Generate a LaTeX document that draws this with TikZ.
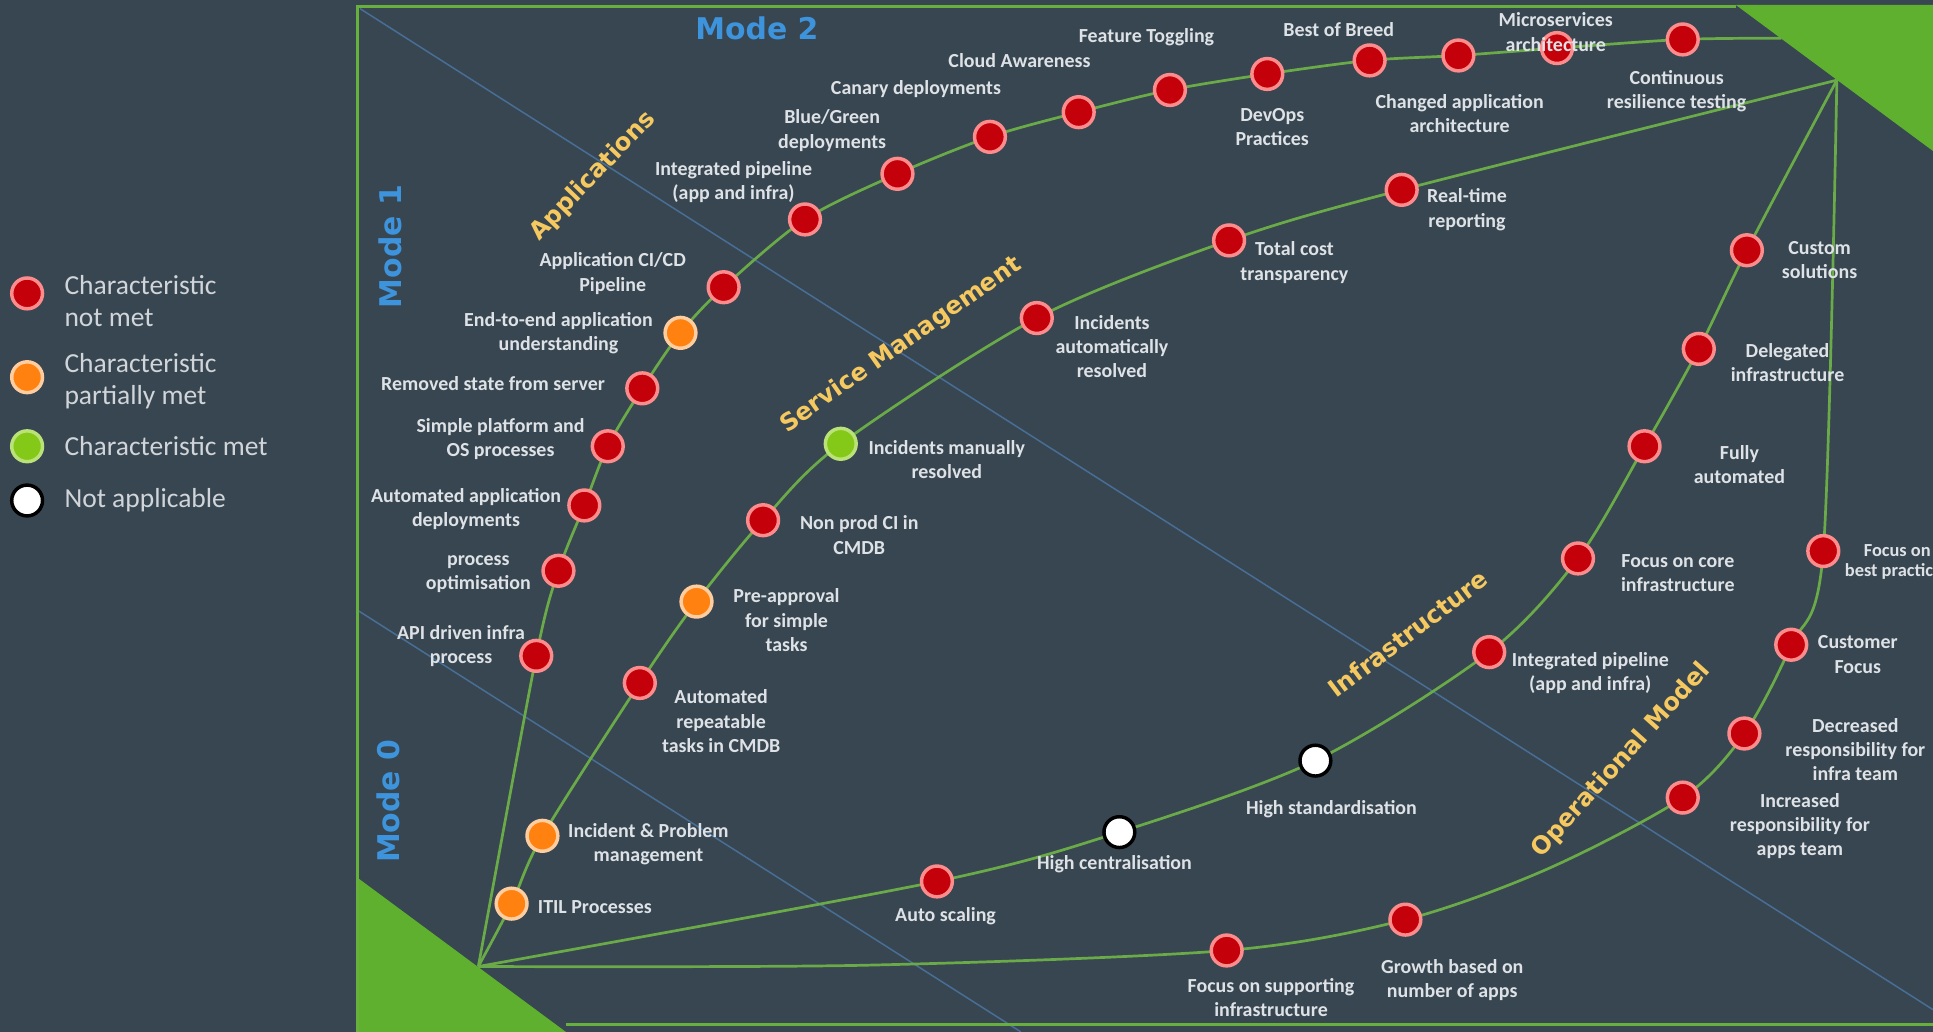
\documentclass[tikz,border=0pt]{standalone}
\usepackage{fontspec}
\setmainfont{Carlito}
\newfontfamily\headfont{DejaVu Sans}
\usepackage{tikz}
\definecolor{slate}{RGB}{55,70,80}
\definecolor{leaf}{RGB}{106,170,72}
\definecolor{framegreen}{RGB}{104,176,62}
\definecolor{lime}{RGB}{94,176,46}
\definecolor{skyblue}{RGB}{62,148,220}
\definecolor{lineblue}{RGB}{72,110,150}
\definecolor{gold}{RGB}{245,200,96}
\definecolor{txtgray}{RGB}{222,226,230}
\definecolor{redfill}{RGB}{196,0,10}
\definecolor{redring}{RGB}{255,140,140}
\definecolor{orangefill}{RGB}{255,130,16}
\definecolor{orangering}{RGB}{255,205,160}
\definecolor{greenfill}{RGB}{132,200,24}
\definecolor{greenring}{RGB}{186,226,120}
\pgfdeclarelayer{back}
\pgfdeclarelayer{wires}
\pgfsetlayers{back,wires,main}

\begin{document}
\begin{tikzpicture}[
x = 0.02cm, y = -0.02cm,
notmet/.style={circle, fill = redfill, draw = redring, line width = 1.6pt, minimum size = 0.5cm, inner sep = 0},
partmet/.style={notmet, fill = orangefill, draw = orangering},
met/.style={notmet, fill = greenfill, draw = greenring},
noapp/.style={notmet, fill = white, draw = black},
lbl/.style={align = center, text = txtgray, inner sep = 0, font = \bfseries\fontsize{9.2}{11.2}\selectfont},
leglbl/.style={align = left, anchor = west, text = txtgray!92!slate, inner sep = 0, font = \fontsize{12.7}{14.8}\selectfont},
catlbl/.style={text = gold, inner sep = 0, font = \headfont\bfseries\fontsize{11.2}{13}\selectfont},
modelbl/.style={text = skyblue, inner sep = 0, font = \headfont\bfseries\fontsize{13.8}{16}\selectfont},
track/.style={draw = leaf, line width = 1.25pt},
modeline/.style={draw = lineblue, line width = 0.7pt},
frame/.style={draw = framegreen, line width = 1.5pt}]

\useasboundingbox (0,0) rectangle (1568,837);
\clip (0,0) rectangle (1568,837);

\begin{pgfonlayer}{back}
\fill[slate] (0,0) rectangle (1568,837);
\draw[modeline] (292,7) -- (1568,819);
\draw[modeline] (290,495) -- (828,837);
\fill[lime] (290,712) -- (290,840) -- (463,840) -- cycle;
\fill[lime] (1408,4) -- (1570,4) -- (1570,124) -- cycle;
\draw[frame] (1408,5) -- (290,5) -- (290,840);
\draw[frame] (459,831) -- (1568,831);
\end{pgfonlayer}

\coordinate (O1) at (388,784);
\coordinate (O2) at (1490,65);
\coordinate (AE) at (1445,31);
\coordinate (OB) at (700,783);
\coordinate (OC) at (1255,705);

% legend
\node[notmet] (LNM) at (22,238) {};
\node[partmet] (LPM) at (22,306) {};
\node[met] (LM) at (22,362) {};
\node[noapp] (LNA) at (22,406) {};
\node[leglbl] (LNMt) at (52,244) {Characteristic\\not met};
\node[leglbl] (LPMt) at (52,309) {Characteristic\\partially met};
\node[leglbl] (LMt) at (52,362) {Characteristic met};
\node[leglbl] (LNAt) at (52,406) {Not applicable};

% modes
\node[modelbl] (M2) at (614,23) {Mode 2};
\node[modelbl, rotate = 90] (M1) at (317,200) {Mode 1};
\node[modelbl, rotate = 90] (M0) at (315,650) {Mode 0};

% applications
\node[notmet] (API) at (435,532) {};
\node[notmet] (PO) at (453,463) {};
\node[notmet] (AAD) at (474,410) {};
\node[notmet] (SPOS) at (493,362) {};
\node[notmet] (RSS) at (521,315) {};
\node[partmet] (EAU) at (552,270) {};
\node[notmet] (CICD) at (587,233) {};
\node[notmet] (IPA) at (653,178) {};
\node[notmet] (BG) at (728,141) {};
\node[notmet] (CAN) at (803,111) {};
\node[notmet] (CLA) at (875,91) {};
\node[notmet] (FT) at (949,73) {};
\node[notmet] (DEV) at (1028,60) {};
\node[notmet] (BOB) at (1111,49) {};
\node[notmet] (CAA) at (1183,45) {};
\node[notmet] (MSA) at (1263,39) {};
\node[notmet] (CRT) at (1365,32) {};

% service management
\node[partmet] (ITIL) at (415,733) {};
\node[partmet] (IPM) at (440,678) {};
\node[notmet] (ART) at (519,554) {};
\node[partmet] (PAS) at (565,488) {};
\node[notmet] (NPC) at (619,422) {};
\node[met] (IMR) at (682,360) {};
\node[notmet] (IAR) at (841,258) {};
\node[notmet] (TCT) at (997,195) {};
\node[notmet] (RTR) at (1137,154) {};

% infrastructure
\node[notmet] (AS) at (760,715) {};
\node[noapp] (HC) at (908,675) {};
\node[noapp] (HS) at (1067,617) {};
\node[notmet] (IPI) at (1208,529) {};
\node[notmet] (FCI) at (1280,453) {};
\node[notmet] (FA) at (1334,362) {};
\node[notmet] (DI) at (1378,283) {};
\node[notmet] (CS) at (1417,203) {};

% operational model
\node[notmet] (FSI) at (995,771) {};
\node[notmet] (GBA) at (1140,746) {};
\node[notmet] (IRA) at (1365,647) {};
\node[notmet] (DRI) at (1415,595) {};
\node[notmet] (CF) at (1453,523) {};
\node[notmet] (FBP) at (1479,447) {};

\begin{pgfonlayer}{wires}
\draw[track] plot[smooth] coordinates {(O1) (API.center) (PO.center) (AAD.center) (SPOS.center) (RSS.center) (EAU.center) (CICD.center) (IPA.center) (BG.center) (CAN.center) (CLA.center) (FT.center) (DEV.center) (BOB.center) (CAA.center) (MSA.center) (CRT.center) (AE)};
\draw[track] plot[smooth] coordinates {(O1) (ITIL.center) (IPM.center) (ART.center) (PAS.center) (NPC.center) (IMR.center) (IAR.center) (TCT.center) (RTR.center) (O2)};
\draw[track] plot[smooth] coordinates {(O1) (AS.center) (HC.center) (HS.center) (IPI.center) (FCI.center) (FA.center) (DI.center) (CS.center) (O2)};
\draw[track] plot[smooth] coordinates {(O1) (OB) (FSI.center) (GBA.center) (OC) (IRA.center) (DRI.center) (CF.center) (FBP.center) (O2)};
\end{pgfonlayer}

% labels
\node[lbl] (APIl) at (374,524) {API driven infra\\process};
\node[lbl] (POl) at (388,466) {process\\optimisation};
\node[lbl] (AADl) at (378,413) {Automated application\\deployments};
\node[lbl] (SPOSl) at (406,356) {Simple platform and\\OS processes};
\node[lbl] (RSSl) at (400,311) {Removed state from server};
\node[lbl] (EAUl) at (453,270) {End-to-end application\\understanding};
\node[lbl] (CICDl) at (497,222) {Application CI/CD\\Pipeline};
\node[lbl] (IPAl) at (595,148) {Integrated pipeline\\(app and infra)};
\node[lbl] (BGl) at (675,106) {Blue/Green\\deployments};
\node[lbl] (CANl) at (743,72) {Canary deployments};
\node[lbl] (CLAl) at (827,49) {Cloud Awareness};
\node[lbl] (FTl) at (930,30) {Feature Toggling};
\node[lbl] (DEVl) at (1032,103) {DevOps\\Practices};
\node[lbl] (BOBl) at (1086,24) {Best of Breed};
\node[lbl] (CAAl) at (1184,92) {Changed application\\architecture};
\node[lbl] (MSAl) at (1262,26) {Microservices\\architecture};
\node[lbl] (CRTl) at (1360,74) {Continuous\\resilience testing};

\node[lbl, anchor = west] (ITILl) at (436,736) {ITIL Processes};
\node[lbl] (IPMl) at (526,685) {Incident \& Problem\\management};
\node[lbl] (ARTl) at (585,585) {Automated\\repeatable\\tasks in CMDB};
\node[lbl] (PASl) at (638,503) {Pre-approval\\for simple\\tasks};
\node[lbl] (NPCl) at (697,434) {Non prod CI in\\CMDB};
\node[lbl] (IMRl) at (768,373) {Incidents manually\\resolved};
\node[lbl] (IARl) at (902,281) {Incidents\\automatically\\resolved};
\node[lbl] (TCTl) at (1050,213) {Total cost\\transparency};
\node[lbl] (RTRl) at (1190,170) {Real-time\\reporting};

\node[lbl] (ASl) at (767,743) {Auto scaling};
\node[lbl] (HCl) at (904,701) {High centralisation};
\node[lbl] (HSl) at (1080,656) {High standardisation};
\node[lbl] (IPIl) at (1290,546) {Integrated pipeline\\(app and infra)};
\node[lbl] (FCIl) at (1361,465) {Focus on core\\infrastructure};
\node[lbl] (FAl) at (1411,377) {Fully\\automated};
\node[lbl] (DIl) at (1450,294) {Delegated\\infrastructure};
\node[lbl] (CSl) at (1476,211) {Custom\\solutions};

\node[lbl] (FSIl) at (1031,809) {Focus on supporting\\infrastructure};
\node[lbl] (GBAl) at (1178,795) {Growth based on\\number of apps};
\node[lbl] (IRAl) at (1460,670) {Increased\\responsibility for\\apps team};
\node[lbl] (DRIl) at (1505,608) {Decreased\\responsibility for\\infra team};
\node[lbl] (CFl) at (1507,531) {Customer\\Focus};
\node[lbl, font = \bfseries\fontsize{8.5}{9.2}\selectfont] (FBPl) at (1539,456) {Focus on\\best practices};

% category titles
\node[catlbl, rotate = 46] (APPS) at (481,143) {Applications};
\node[catlbl, rotate = 35] (SVC) at (731,280) {Service Management};
\node[catlbl, rotate = 37] (INFRA) at (1142,514) {Infrastructure};
\node[catlbl, rotate = 48] (OPS) at (1315,617) {Operational Model};

\end{tikzpicture}
\end{document}
